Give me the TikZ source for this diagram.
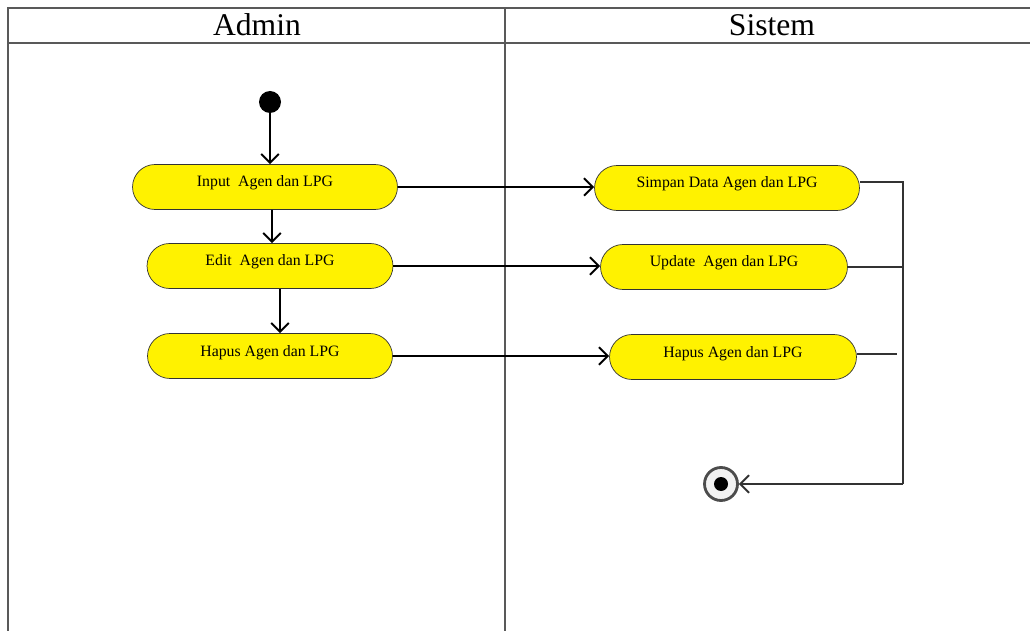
\documentclass[tikz,border=0pt]{standalone}
\usepackage{fontspec}
\setmainfont{Liberation Serif}
\usetikzlibrary{arrows.meta}

\begin{document}
\begin{tikzpicture}[x=0.02cm,y=-0.02cm,>={Straight Barb[length=5pt,width=10pt]},
  activity/.style={rectangle,rounded corners=0.45cm,draw=black!80,fill=yellow,
                   minimum height=0.9cm,font=\fontsize{9}{10}\selectfont,text height=6pt,text depth=6pt},
  lane/.style={draw=black!65,line width=0.8pt}]
\useasboundingbox (0,0) rectangle (1030,631);
  \draw[lane] (8,631) -- (8,8) -- (1030,8)
              (8,43) -- (1030,43)
              (505,8) -- (505,631);
  \node[font=\fontsize{18}{20}\selectfont] (admin) at (257,25) {Admin};
  \node[font=\fontsize{18}{20}\selectfont] (sistem) at (772,25) {Sistem};
  \node[circle,fill=black,inner sep=0pt,minimum size=0.44cm] (start) at (270,102) {};
  \node[activity,minimum width=5.3cm] (input) at (265,187) {Input~~Agen dan LPG};
  \node[activity,minimum width=4.92cm] (edit) at (270,266) {Edit~~Agen dan LPG};
  \node[activity,minimum width=4.9cm] (hapusA) at (270,356) {Hapus Agen dan LPG};
  \node[activity,minimum width=5.3cm] (simpan) at (727,188) {Simpan Data Agen dan LPG};
  \node[activity,minimum width=4.94cm] (update) at (724,267) {Update~~Agen dan LPG};
  \node[activity,minimum width=4.94cm] (hapusS) at (733,357) {Hapus Agen dan LPG};
  \node[circle,draw=black!70,line width=1.6pt,fill=black!5,inner sep=0pt,minimum size=0.66cm] (end) at (721,484) {};
  \fill (end) circle (0.14cm);
  \coordinate (join) at (903,484);
  \begin{scope}[line width=1.1pt]
  \draw[->] (start) -- (start |- input.north);
  \draw[->] ([xshift=0.14cm]input.south) -- ([xshift=0.04cm]edit.north);
  \draw[->] ([xshift=0.2cm]edit.south) -- ([xshift=0.2cm]hapusA.north);
  \draw[->] (input.east) -- (input.east -| simpan.west);
  \draw[->] (edit.east) -- (edit.east -| update.west);
  \draw[->] (hapusA.east) -- (hapusA.east -| hapusS.west);
  \end{scope}
  \draw[draw=black!80,line width=0.9pt] ([yshift=0.12cm]simpan.east) -- ([yshift=0.12cm]simpan.east -| join) -- (join);
  \draw[draw=black!80,line width=0.9pt] (update.east) -- (update.east -| join);
  \draw[draw=black!80,line width=0.9pt] ([yshift=0.06cm]hapusS.east) -- ++(40,0);
  \draw[->,draw=black!80,line width=1.1pt] (join) -- (end);
\end{tikzpicture}
\end{document}
